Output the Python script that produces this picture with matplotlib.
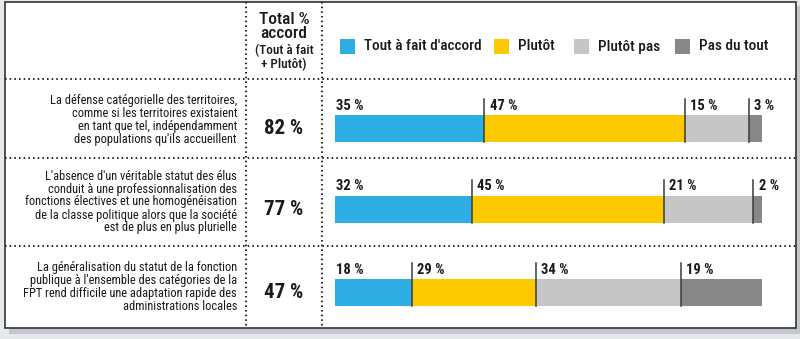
import numpy as np
import matplotlib.pyplot as plt
from matplotlib.patches import Rectangle

plt.rcParams['font.family'] = ['Roboto Condensed', 'DejaVu Sans']

statements = [
    "La défense catégorielle des territoires,\ncomme si les territoires existaient\nen tant que tel, indépendamment\ndes populations qu'ils accueillent",
    "L'absence d'un véritable statut des élus\nconduit à une professionnalisation des\nfonctions électives et une homogénéisation\nde la classe politique alors que la société\nest de plus en plus plurielle",
    "La généralisation du statut de la fonction\npublique à l'ensemble des catégories de la\nFPT rend difficile une adaptation rapide des\nadministrations locales",
]
categories = ["Tout à fait d'accord", "Plutôt", "Plutôt pas", "Pas du tout"]
tout_a_fait = [35, 32, 18]
plutot = [47, 45, 29]
plutot_pas = [15, 21, 34]
pas_du_tout = [3, 2, 19]
totals = ["82 %", "77 %", "47 %"]

colors = ["#2EADE3", "#FDCA00", "#C6C6C6", "#878787"]
series = [tout_a_fait, plutot, plutot_pas, pas_du_tout]

W, H = 800, 339
fig = plt.figure(figsize=(W / 100, H / 100), dpi=100, facecolor="#E6E9EC")

# frame / table layer in pixel coordinates
ax = fig.add_axes([0, 0, 1, 1])
ax.set_xlim(0, W)
ax.set_ylim(H, 0)
ax.axis("off")

ax.add_patch(Rectangle((9, 6), 792, 328, facecolor="#C3C7CC", edgecolor="none", zorder=0))
ax.add_patch(Rectangle((5, 2), 791, 326, facecolor="white", edgecolor="#333333", lw=1.2, zorder=1))

dot = dict(color="#222222", lw=1.4, ls=(0, (0.8, 1.6)), zorder=2)
for xv in [246, 322]:
    ax.plot([xv, xv], [2, 328], **dot)
for yv in [79, 158, 246]:
    ax.plot([5, 796], [yv, yv], **dot)

# header of total column
txt = "#1a1a1a"
ax.text(284, 19, "Total %", ha="center", va="center", fontsize=12.5, fontweight="medium", color=txt, zorder=3)
ax.text(284, 34, "accord", ha="center", va="center", fontsize=12.5, fontweight="medium", color=txt, zorder=3)
ax.text(284, 50, "(Tout à fait", ha="center", va="center", fontsize=9.5, fontweight="medium", color=txt, zorder=3)
ax.text(284, 64, "+ Plutôt)", ha="center", va="center", fontsize=9.5, fontweight="medium", color=txt, zorder=3)

# legend
leg_x = [340, 494, 574, 675]
for lx, col, lab in zip(leg_x, colors, categories):
    ax.add_patch(Rectangle((lx, 39), 15, 15, facecolor=col, edgecolor="none", zorder=3))
    ax.text(lx + 24, 46.5, lab, ha="left", va="center", fontsize=11, fontweight="medium", color=txt, zorder=3)

row_y = [128.5, 209.5, 292.5]
text_y = [120, 202, 287]
for ty, ry, st, tot in zip(text_y, row_y, statements, totals):
    ax.text(237, ty, st, ha="right", va="center", fontsize=8.9, linespacing=1.0, color=txt, zorder=3)
    ax.text(284, ry, tot, ha="center", va="center", fontsize=15, fontweight="bold", color=txt, zorder=3)

# bars layer: 0-100 % mapped onto x = 335..762 px
bx = fig.add_axes([335 / W, 0, 427 / W, 1])
bx.set_xlim(0, 100)
bx.set_ylim(H, 0)
bx.axis("off")
bx.patch.set_alpha(0)

vals = np.array(series)
lefts = np.vstack([np.zeros(3), np.cumsum(vals, axis=0)[:-1]])
for k in range(4):
    bx.barh(row_y, vals[k], left=lefts[k], height=27, color=colors[k], edgecolor="none", zorder=2)

for i, ry in enumerate(row_y):
    for k in range(4):
        x0 = lefts[k][i]
        top = ry - 30
        if k > 0:
            bx.plot([x0, x0], [top, ry + 13.5], color="#3a3a3a", lw=1.1, zorder=4)
            off = 1.2
        else:
            off = 0.2
        bx.text(x0 + off, ry - 23, f"{vals[k][i]} %", ha="left", va="center",
                fontsize=10.5, fontweight="bold", color=txt, zorder=4)

fig.savefig("out.png", dpi=100, facecolor=fig.get_facecolor())
